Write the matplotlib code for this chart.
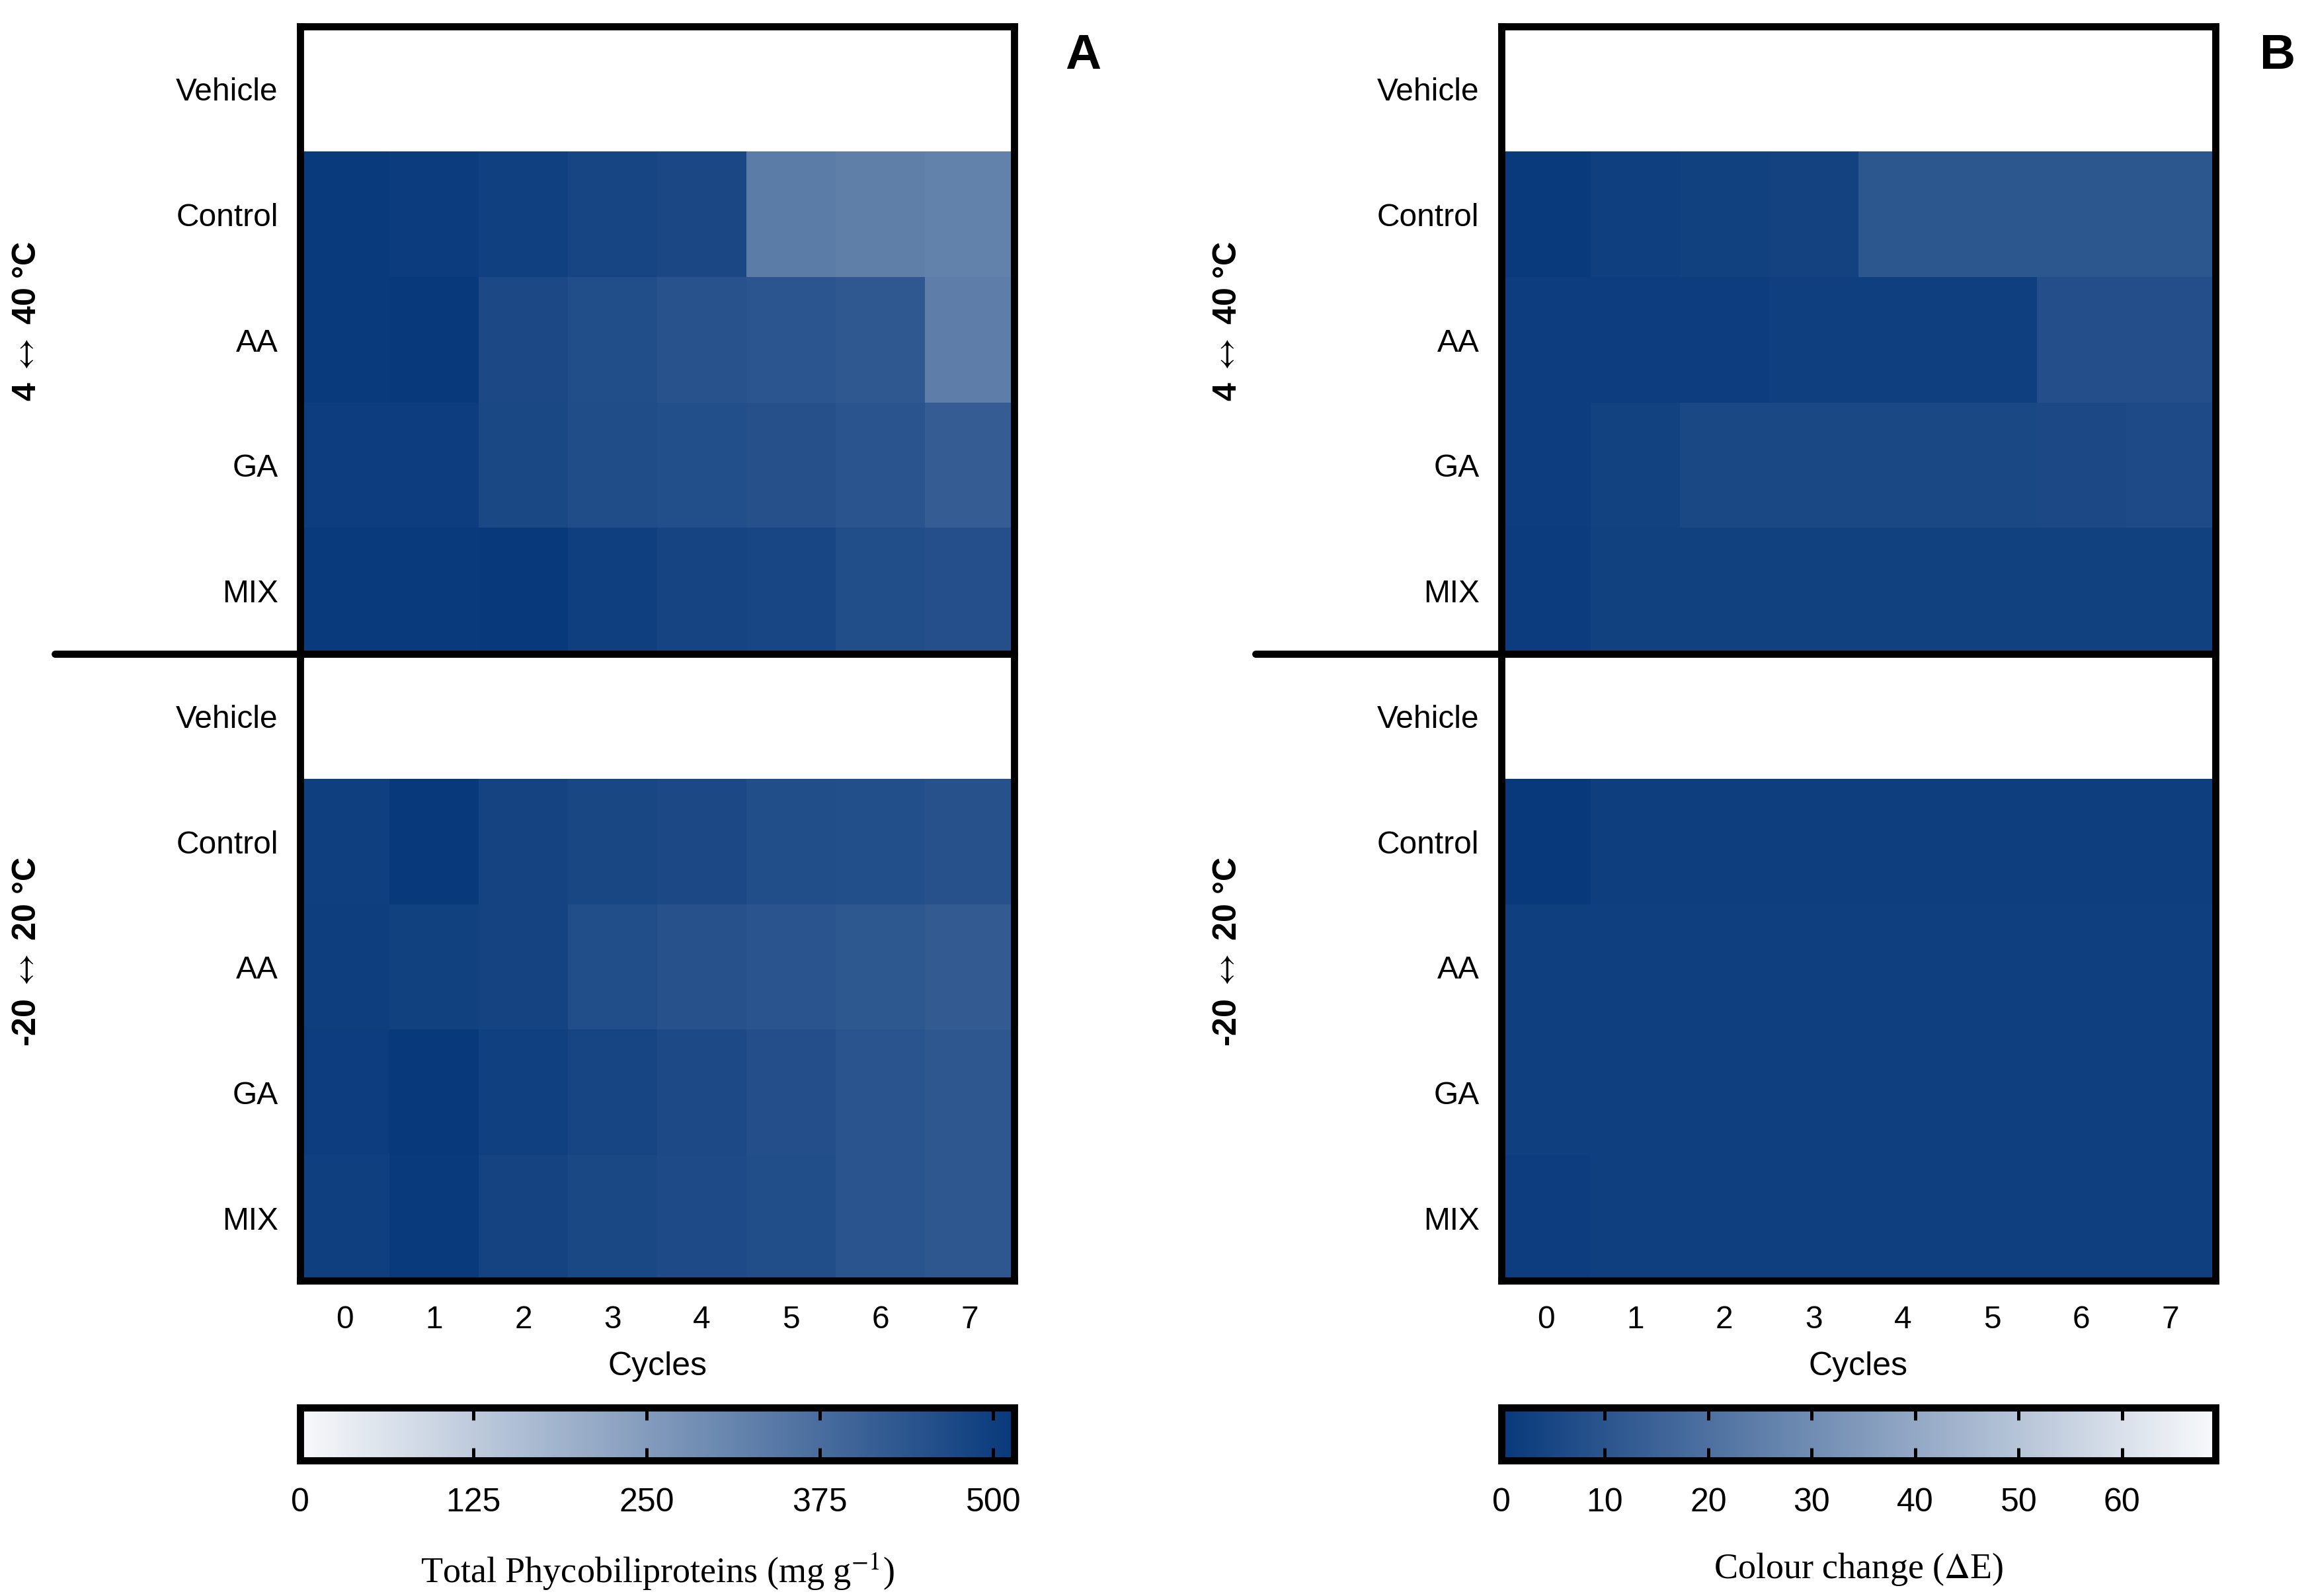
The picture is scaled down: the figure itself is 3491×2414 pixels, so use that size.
import numpy as np
import matplotlib
matplotlib.use("Agg")
import matplotlib.pyplot as plt
from matplotlib.colors import LinearSegmentedColormap
import matplotlib.transforms as mtransforms

plt.rcParams['font.family'] = ['Liberation Sans', 'DejaVu Sans']
plt.rcParams['mathtext.fontset'] = 'stix'

# ---------------- data ----------------
treatments = ["Vehicle", "Control", "AA", "GA", "MIX"]
cycles = [0, 1, 2, 3, 4, 5, 6, 7]
groups = ["4 $\\leftrightarrow$ 40 °C", "-20 $\\leftrightarrow$ 20 °C"]

# Panel A: total phycobiliproteins (mg g-1); Vehicle rows have no data
pb_4_40_control = [509, 504, 494, 481, 472, 335, 326, 318]
pb_4_40_aa      = [509, 515, 470, 459, 446, 438, 429, 328]
pb_4_40_ga      = [502, 502, 474, 461, 457, 451, 440, 418]
pb_4_40_mix     = [509, 509, 513, 496, 483, 479, 459, 453]
pb_m20_20_control = [498, 515, 485, 476, 470, 459, 457, 448]
pb_m20_20_aa      = [500, 491, 485, 459, 448, 442, 433, 421]
pb_m20_20_ga      = [502, 513, 494, 481, 468, 455, 440, 431]
pb_m20_20_mix     = [498, 509, 485, 474, 466, 459, 442, 431]

# Panel B: colour change (delta E)
de_4_40_control = [0.6, 2.5, 3.2, 3.6, 10.6, 10.6, 10.6, 10.6]
de_4_40_aa      = [1.7, 1.7, 1.7, 2.4, 2.4, 2.4, 8.0, 8.0]
de_4_40_ga      = [1.7, 3.4, 5.4, 5.4, 5.5, 5.5, 6.0, 6.6]
de_4_40_mix     = [1.4, 3.0, 3.2, 3.2, 3.2, 3.2, 3.2, 3.2]
de_m20_20_control = [0.3, 2.0, 2.0, 2.0, 2.0, 2.0, 2.0, 2.0]
de_m20_20_aa      = [2.6, 2.6, 2.6, 2.6, 2.6, 2.6, 2.6, 2.6]
de_m20_20_ga      = [2.6, 2.6, 2.6, 2.6, 2.6, 2.6, 2.6, 2.6]
de_m20_20_mix     = [1.7, 2.6, 2.6, 2.6, 2.6, 2.6, 2.6, 2.6]

pb_ticks = [0, 125, 250, 375, 500]
de_ticks = [0, 10, 20, 30, 40, 50, 60]

nan_row = [np.nan] * len(cycles)
pb_matrix = np.array([nan_row, pb_4_40_control, pb_4_40_aa, pb_4_40_ga, pb_4_40_mix,
                      nan_row, pb_m20_20_control, pb_m20_20_aa, pb_m20_20_ga, pb_m20_20_mix], float)
de_matrix = np.array([nan_row, de_4_40_control, de_4_40_aa, de_4_40_ga, de_4_40_mix,
                      nan_row, de_m20_20_control, de_m20_20_aa, de_m20_20_ga, de_m20_20_mix], float)

cmap_a = LinearSegmentedColormap.from_list("wb", ["#f8f9fb", "#08397b"])
cmap_b = cmap_a.reversed()

W, H = 3491, 2414
fig = plt.figure(figsize=(W / 300, H / 300), dpi=300)

lw = 2.6
panels = [
    dict(left=0.1301, data=pb_matrix, cmap=cmap_a, vmax=515, ticks=pb_ticks,
         label="Total Phycobiliproteins (mg g$^{-1}$)", letter="A", lx=1.097),
    dict(left=0.6505, data=de_matrix, cmap=cmap_b, vmax=69, ticks=de_ticks,
         label="Colour change ($\\Delta$E)", letter="B", lx=1.087),
]

ylabels = treatments + treatments
nrows = len(ylabels)

for p in panels:
    ax = fig.add_axes([p["left"], 0.1976, 0.3093, 0.7858])
    ax.set_facecolor("white")
    im = ax.imshow(p["data"], cmap=p["cmap"], vmin=0, vmax=p["vmax"], aspect="auto",
                   interpolation="nearest",
                   extent=(-0.5, len(cycles) - 0.5, nrows - 0.5, -0.5))
    ax.set_xlim(-0.5, len(cycles) - 0.5)
    ax.set_ylim(nrows - 0.5, -0.5)
    ax.set_xticks(range(len(cycles)))
    ax.set_xticklabels([str(c) for c in cycles], fontsize=11.5)
    ax.set_yticks(range(nrows))
    ax.set_yticklabels(ylabels, fontsize=11.5)
    ax.tick_params(axis="both", length=0)
    ax.tick_params(axis="y", pad=8)
    ax.tick_params(axis="x", pad=9)
    ax.set_xlabel("Cycles", fontsize=12, labelpad=6)
    for s in ax.spines.values():
        s.set_linewidth(lw)
        s.set_color("black")

    # divider between groups, extending to the left
    trans = mtransforms.blended_transform_factory(ax.transAxes, ax.transData)
    ax.plot([-0.344, 1.0], [4.5, 4.5], color="black", lw=lw, transform=trans,
            clip_on=False, solid_capstyle="round", zorder=5)

    ax.text(-0.383, 0.765, groups[0], transform=ax.transAxes, rotation=90,
            ha="center", va="center", fontsize=12, fontweight="bold")
    ax.text(-0.383, 0.262, groups[1], transform=ax.transAxes, rotation=90,
            ha="center", va="center", fontsize=12, fontweight="bold")

    ax.text(p["lx"], 0.9765, p["letter"], transform=ax.transAxes, ha="center",
            va="center", fontsize=18, fontweight="bold")

    cax = fig.add_axes([p["left"], 0.0850, 0.3093, 0.0332])
    cb = fig.colorbar(im, cax=cax, orientation="horizontal", ticks=p["ticks"])
    cb.outline.set_linewidth(lw)
    cax.tick_params(axis="x", direction="in", top=True, bottom=True, length=4.5,
                    width=1.2, pad=10, labelsize=12)
    cb.set_label(p["label"], fontsize=13, family=["Liberation Serif", "DejaVu Serif"],
                 labelpad=12)

fig.savefig("out.png", dpi=300)
